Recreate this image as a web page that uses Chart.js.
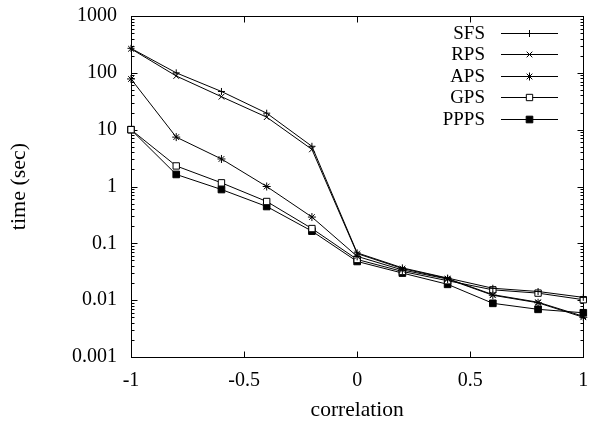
<!DOCTYPE html>
<html>
<head>
<meta charset="utf-8">
<script src="https://cdn.jsdelivr.net/npm/chart.js@4/dist/chart.umd.min.js"></script>
<style>
  html, body { margin: 0; padding: 0; background: #fff; }
  #wrap { width: 589px; height: 421px; }
</style>
</head>
<body>
<div id="wrap"><canvas id="grafico" width="589" height="421"></canvas></div>
<script>
// dados
const correlation = [-1, -0.8, -0.6, -0.4, -0.2, 0, 0.2, 0.4, 0.6, 0.8, 1];
const sfs  = [270, 100, 47, 19.5, 5.1, 0.068, 0.037, 0.0245, 0.0162, 0.0142, 0.0112];
const rps  = [265, 88, 38, 16.6, 4.5, 0.066, 0.036, 0.024, 0.0125, 0.0092, 0.0052];
const aps  = [78, 7.4, 3.05, 1.0, 0.29, 0.059, 0.034, 0.0235, 0.0122, 0.009, 0.005];
const gps  = [10, 2.3, 1.16, 0.545, 0.182, 0.052, 0.032, 0.022, 0.0152, 0.0133, 0.0102];
const ppps = [10, 1.63, 0.885, 0.445, 0.164, 0.048, 0.030, 0.019, 0.0088, 0.0069, 0.006];
const seriesNames = ['SFS', 'RPS', 'APS', 'GPS', 'PPPS'];

const xTicks = [-1, -0.5, 0, 0.5, 1];
const xTickLabels = ['-1', '-0.5', '0', '0.5', '1'];
const yTicks = [0.001, 0.01, 0.1, 1, 10, 100, 1000];
const yTickLabels = ['0.001', '0.01', '0.1', '1', '10', '100', '1000'];

const FONT = 'Liberation Serif';

function pontos(values) {
  return correlation.map((c, i) => ({ x: c, y: values[i] }));
}

function serie(label, values, style, radius, fill) {
  return {
    label: label,
    data: pontos(values),
    borderColor: '#000',
    borderWidth: 1,
    backgroundColor: fill,
    pointStyle: style,
    pointRadius: radius,
    pointBorderColor: '#000',
    pointBackgroundColor: fill,
    pointBorderWidth: 1,
    tension: 0,
    clip: false
  };
}

// moldura com ticks para dentro (estilo gnuplot)
const moldura = {
  id: 'moldura',
  beforeDatasetsDraw(chart) {
    const { ctx, chartArea: a, scales: { x, y } } = chart;
    const l = Math.round(a.left) + 0.5, r = Math.round(a.right) + 0.5;
    const t = Math.round(a.top) + 0.5, b = Math.round(a.bottom) + 0.5;
    ctx.save();
    ctx.strokeStyle = '#000';
    ctx.lineWidth = 1;
    ctx.strokeRect(l, t, r - l, b - t);
    ctx.beginPath();
    xTicks.forEach(v => {
      const px = Math.round(x.getPixelForValue(v)) + 0.5;
      ctx.moveTo(px, b); ctx.lineTo(px, b - 6);
      ctx.moveTo(px, t); ctx.lineTo(px, t + 6);
    });
    for (let d = -3; d <= 3; d++) {
      for (let m = 1; m <= 9; m++) {
        const v = m * Math.pow(10, d);
        if (v > 1000) break;
        const len = m === 1 ? 6 : 3;
        const py = Math.round(y.getPixelForValue(v)) + 0.5;
        ctx.moveTo(l, py); ctx.lineTo(l + len, py);
        ctx.moveTo(r, py); ctx.lineTo(r - len, py);
      }
    }
    ctx.stroke();
    ctx.restore();
  }
};

// legenda dentro da área, texto à esquerda da amostra
const legenda = {
  id: 'legenda',
  afterDatasetsDraw(chart) {
    const { ctx } = chart;
    ctx.save();
    ctx.font = '19px "' + FONT + '"';
    ctx.textAlign = 'right';
    ctx.textBaseline = 'middle';
    chart.data.datasets.forEach((ds, i) => {
      const yy = Math.round(33 + i * 21.4) + 0.5;
      ctx.fillStyle = '#000';
      ctx.fillText(ds.label, 485, yy + 1);
      ctx.strokeStyle = '#000';
      ctx.lineWidth = 1;
      ctx.beginPath();
      ctx.moveTo(501, yy);
      ctx.lineTo(558, yy);
      ctx.stroke();
      ctx.fillStyle = ds.pointBackgroundColor;
      Chart.helpers.drawPoint(ctx, {
        pointStyle: ds.pointStyle,
        radius: ds.pointRadius,
        rotation: 0,
        borderWidth: 1
      }, 529.5, yy);
    });
    ctx.restore();
  }
};

const ctxGrafico = document.getElementById('grafico').getContext('2d');
new Chart(ctxGrafico, {
  type: 'line',
  data: {
    datasets: [
      serie(seriesNames[0], sfs, 'cross', 3.5, '#000'),
      serie(seriesNames[1], rps, 'crossRot', 4, '#000'),
      serie(seriesNames[2], aps, 'star', 4, '#000'),
      serie(seriesNames[3], gps, 'rect', 4.5, '#fff'),
      serie(seriesNames[4], ppps, 'rect', 4.7, '#000')
    ]
  },
  options: {
    responsive: false,
    animation: false,
    devicePixelRatio: 1,
    layout: { padding: { top: 16, right: 5, left: 0, bottom: 0 } },
    plugins: {
      legend: { display: false },
      tooltip: { enabled: false }
    },
    scales: {
      x: {
        type: 'linear',
        min: -1,
        max: 1,
        afterBuildTicks: scale => { scale.ticks = xTicks.map(v => ({ value: v })); },
        afterFit: scale => {
          scale.height = 64;
          scale.paddingLeft = 0;
          scale.paddingRight = 0;
        },
        grid: { display: false, drawTicks: false },
        border: { display: false },
        ticks: {
          color: '#000',
          padding: 12,
          maxRotation: 0,
          font: { family: FONT, size: 20 },
          callback: v => xTickLabels[xTicks.indexOf(v)]
        },
        title: {
          display: true,
          text: 'correlation',
          color: '#000',
          font: { family: FONT, size: 21.5 },
          padding: { top: 0, bottom: -2 }
        }
      },
      y: {
        type: 'logarithmic',
        min: 0.001,
        max: 1000,
        afterBuildTicks: scale => { scale.ticks = yTicks.map(v => ({ value: v })); },
        afterFit: scale => {
          scale.width = 131;
          scale.paddingTop = 0;
          scale.paddingBottom = 0;
        },
        grid: { display: false, drawTicks: false },
        border: { display: false },
        ticks: {
          color: '#000',
          padding: 14,
          font: { family: FONT, size: 20 },
          callback: v => yTickLabels[yTicks.indexOf(v)]
        },
        title: {
          display: true,
          text: 'time (sec)',
          color: '#000',
          font: { family: FONT, size: 22 },
          padding: { top: 6, bottom: 0 }
        }
      }
    }
  },
  plugins: [moldura, legenda]
});
</script>
</body>
</html>
